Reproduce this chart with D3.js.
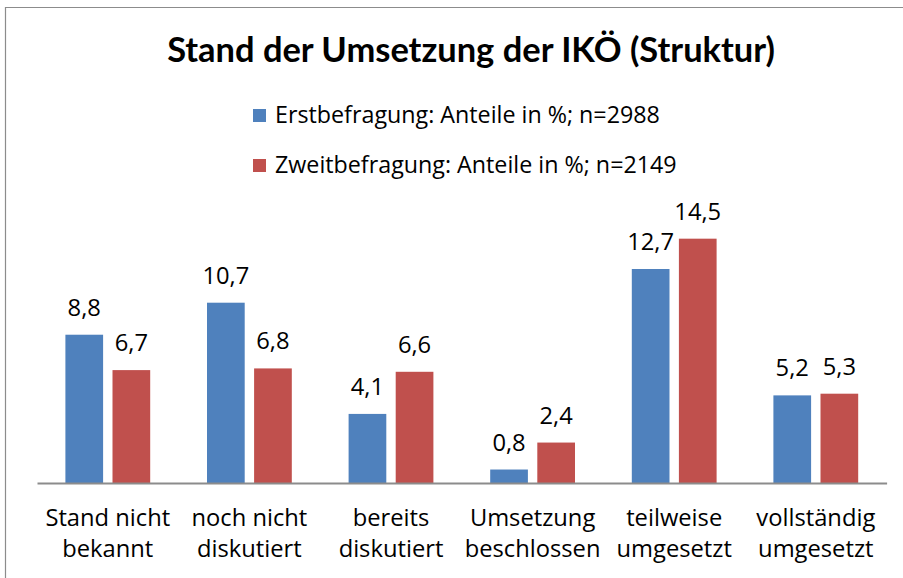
<!DOCTYPE html>
<html>
<head>
<meta charset="utf-8">
<script src="https://cdn.jsdelivr.net/npm/d3@7"></script>
<style>
  html, body { margin: 0; padding: 0; background: #fff; }
  svg { display: block; }
  text { fill: #000; }
  .body { font-family: "Open Sans", "Noto Sans", sans-serif; }
  .title { font-family: Lato, "Open Sans", sans-serif; font-weight: bold; }
</style>
</head>
<body>
<svg id="chart" width="903" height="578"></svg>
<script>
const title = "Stand der Umsetzung der IKÖ (Struktur)";
const categories = [
  ["Stand nicht", "bekannt"],
  ["noch nicht", "diskutiert"],
  ["bereits", "diskutiert"],
  ["Umsetzung", "beschlossen"],
  ["teilweise", "umgesetzt"],
  ["vollständig", "umgesetzt"]
];
const seriesNames = [
  "Erstbefragung: Anteile in %; n=2988",
  "Zweitbefragung: Anteile in %; n=2149"
];
const erstValues = [8.8, 10.7, 4.1, 0.8, 12.7, 5.2];
const zweitValues = [6.7, 6.8, 6.6, 2.4, 14.5, 5.3];
const colors = ["#4F81BD", "#C0504D"];

const svg = d3.select("#chart");
const fmt = v => d3.format(".1f")(v).replace(".", ",");

// fit font size so a text element matches a target width
function fitSize(sel, base, target) {
  sel.attr("font-size", base);
  const w = sel.node().getComputedTextLength();
  const s = base * target / w;
  sel.attr("font-size", s);
  return s;
}

// chart area border (left + top visible)
svg.append("path")
  .attr("d", "M5.5,578 L5.5,7.5 L903,7.5")
  .attr("fill", "none").attr("stroke", "#8c8c8c").attr("stroke-width", 1.2);

// title
const tt = svg.append("text").attr("class", "title")
  .attr("x", 471).attr("y", 62)
  .attr("text-anchor", "middle")
  .text(title);
fitSize(tt, 36, 608);

// legend
const legendY = [116, 166];
let bodySize = 20;
seriesNames.forEach((name, i) => {
  const g = svg.append("g").attr("transform", `translate(253,${legendY[i]})`);
  g.append("rect").attr("x", 0).attr("y", -7).attr("width", 13).attr("height", 13).attr("fill", colors[i]);
  const t = g.append("text").attr("class", "body").attr("x", 22).attr("y", 7).text(name);
  if (i === 0) bodySize = fitSize(t, 20, 385);
  else t.attr("font-size", bodySize);
});

// scales
const x0 = d3.scaleBand().domain(d3.range(categories.length)).range([37, 886.6]).paddingInner(0).paddingOuter(0);
const yBase = 483;
const y = d3.scaleLinear().domain([0, 10]).range([yBase, yBase - 168.5]);
const barW = 37.7, gap = 9.4;
const groupW = barW * 2 + gap;
const x1 = d3.scaleOrdinal().domain([0, 1]).range([
  (x0.bandwidth() - groupW) / 2,
  (x0.bandwidth() - groupW) / 2 + barW + gap
]);

const series = [erstValues, zweitValues];
series.forEach((vals, si) => {
  const g = svg.append("g");
  g.selectAll("rect").data(vals).join("rect")
    .attr("x", (d, i) => x0(i) + x1(si))
    .attr("y", d => y(d))
    .attr("width", barW)
    .attr("height", d => yBase - y(d))
    .attr("fill", colors[si]);
  g.selectAll("text").data(vals).join("text")
    .attr("class", "body")
    .attr("x", (d, i) => x0(i) + x1(si) + barW / 2)
    .attr("y", d => y(d) - 19)
    .attr("text-anchor", "middle")
    .attr("font-size", bodySize * 1.02)
    .text(d => fmt(d));
});

// axis line
const xAxis = d3.axisBottom(x0).tickSize(0).tickFormat("");
const axG = svg.append("g").attr("transform", `translate(0,${yBase})`).call(xAxis);
axG.select(".domain").attr("stroke", "#8c8c8c").attr("stroke-width", 2);

// category labels
categories.forEach((lines, i) => {
  const cx = x0(i) + x0.bandwidth() / 2;
  const t = svg.append("text").attr("class", "body")
    .attr("x", cx)
    .attr("y", 526)
    .attr("text-anchor", "middle")
    .attr("font-size", bodySize * 1.02);
  lines.forEach((ln, k) => {
    t.append("tspan").attr("x", cx).attr("dy", k === 0 ? 0 : 30.5).text(ln);
  });
});
</script>
</body>
</html>
